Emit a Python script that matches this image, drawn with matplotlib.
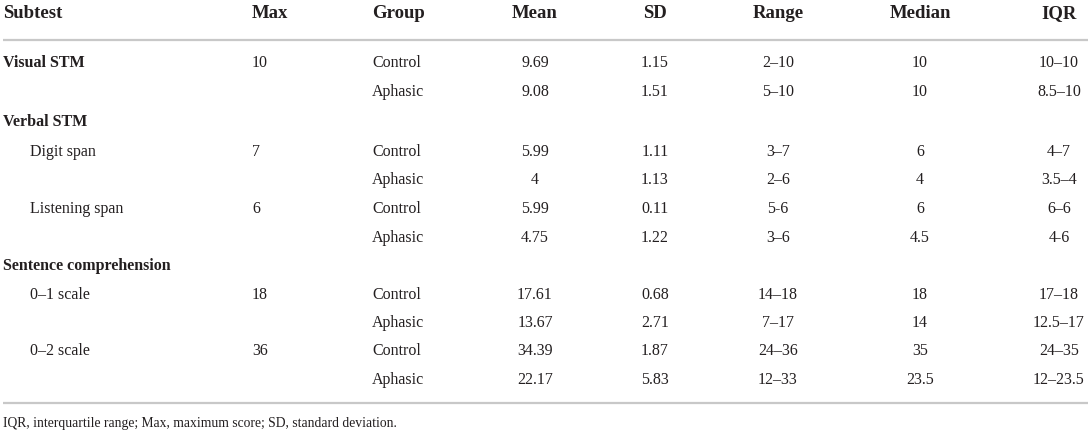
import matplotlib
matplotlib.use("Agg")
import matplotlib.pyplot as plt

headers = ["Subtest", "Max", "Group", "Mean", "SD", "Range", "Median", "IQR"]
subtests = ["Visual STM", "", "Verbal STM", "Digit span", "", "Listening span", "",
            "Sentence comprehension", "0\u20131 scale", "", "0\u20132 scale", ""]
subtest_bold = [True, False, True, False, False, False, False, True, False, False, False, False]
subtest_indent = [False, False, False, True, False, True, False, False, True, False, True, False]
max_scores = ["10", "", "", "7", "", "6", "", "", "18", "", "36", ""]
groups = ["Control", "Aphasic", "", "Control", "Aphasic", "Control", "Aphasic", "",
          "Control", "Aphasic", "Control", "Aphasic"]
means = ["9.69", "9.08", "", "5.99", "4", "5.99", "4.75", "", "17.61", "13.67", "34.39", "22.17"]
sds = ["1.15", "1.51", "", "1.11", "1.13", "0.11", "1.22", "", "0.68", "2.71", "1.87", "5.83"]
ranges = ["2\u201310", "5\u201310", "", "3\u20137", "2\u20136", "5-6", "3\u20136", "",
          "14\u201318", "7\u201317", "24\u201336", "12\u201333"]
medians = ["10", "10", "", "6", "4", "6", "4.5", "", "18", "14", "35", "23.5"]
iqrs = ["10\u201310", "8.5\u201310", "", "4\u20137", "3.5\u20134", "6\u20136", "4-6", "",
        "17\u201318", "12.5\u201317", "24\u201335", "12\u201323.5"]
footnote = "IQR, interquartile range; Max, maximum score; SD, standard deviation."

W, H = 1091, 433
fig = plt.figure(figsize=(W / 100, H / 100), dpi=100)
ax = fig.add_axes([0, 0, 1, 1])
ax.set_xlim(0, W)
ax.set_ylim(H, 0)
ax.axis("off")

FONT = "Liberation Serif"
TC = "#231f20"
LC = "#c8c8c8"
BODY = 11.5
HEAD = 13.5

row_centers = [61, 90, 120, 150, 178.5, 207, 236, 264, 293, 321, 349, 378]
cap = 5.8

# column positions: (x, ha)
col_x = [3, 252, 372, 535, 655, 778, 920, 1059]
col_ha = ["left", "left", "left", "center", "center", "center", "center", "center"]

for h, x, ha in zip(headers, col_x, col_ha):
    ax.text(x, 18.5, h, ha=ha, va="baseline", fontsize=HEAD, fontweight="bold",
            family=FONT, color=TC)

ax.plot([3, 1088], [39.5, 39.5], color=LC, lw=1.6, solid_capstyle="butt")
ax.plot([3, 1088], [403, 403], color=LC, lw=1.6, solid_capstyle="butt")

cols = [max_scores, groups, means, sds, ranges, medians, iqrs]
for i, yc in enumerate(row_centers):
    yb = yc + cap
    s = subtests[i]
    if s:
        x = 30 if subtest_indent[i] else 3
        ax.text(x, yb, s, ha="left", va="baseline", fontsize=BODY,
                fontweight="bold" if subtest_bold[i] else "normal", family=FONT, color=TC)
    for j, col in enumerate(cols):
        v = col[i]
        if v:
            ax.text(col_x[j + 1], yb, v, ha=col_ha[j + 1], va="baseline", fontsize=BODY,
                    family=FONT, color=TC)

ax.text(3, 427, footnote, ha="left", va="baseline", fontsize=9.8, family=FONT, color=TC)

fig.savefig("out.png", dpi=100)
